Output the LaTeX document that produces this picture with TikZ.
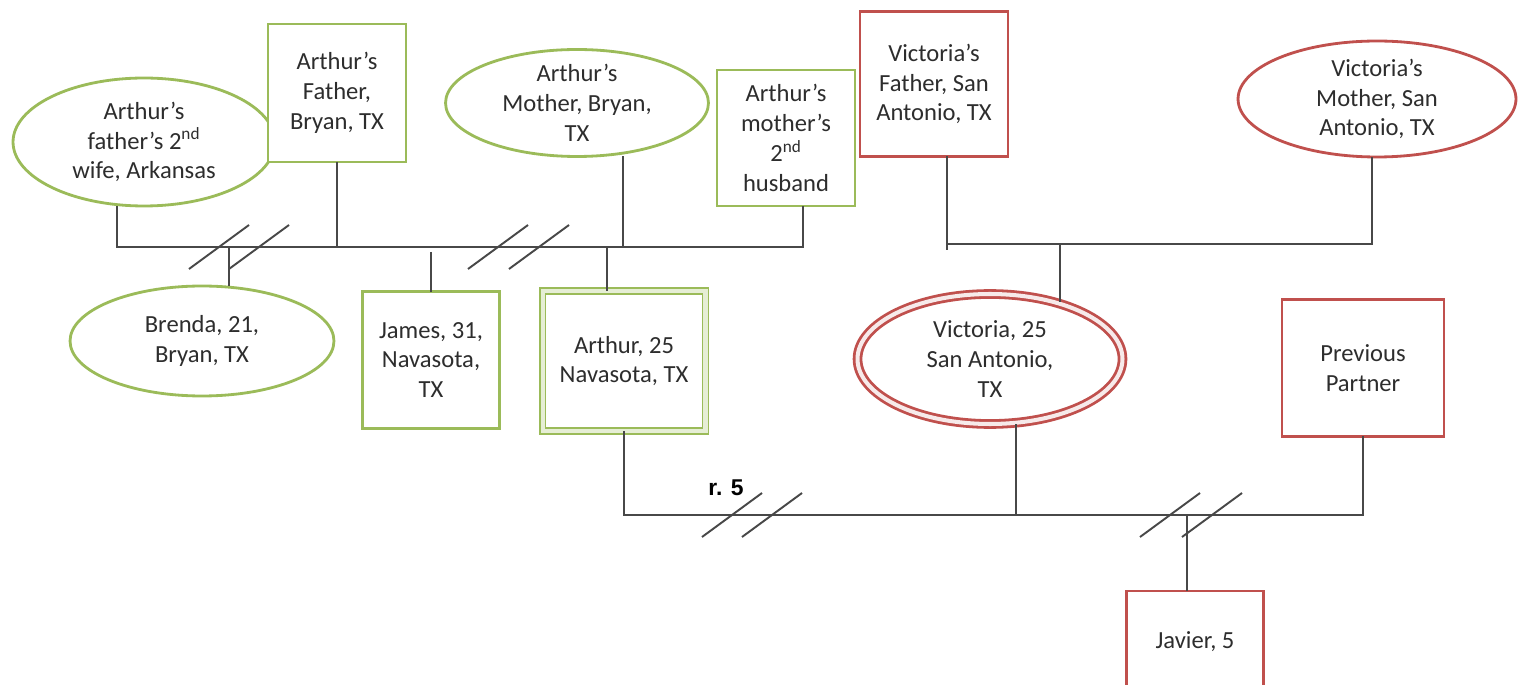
\documentclass[tikz,border=0pt]{standalone}
\usepackage{fontspec}
\setmainfont{Carlito}
\newfontfamily\tagfont{Liberation Sans}
\usetikzlibrary{shapes.geometric}

\definecolor{kinGreen}{RGB}{155,187,89}
\definecolor{kinRed}{RGB}{192,80,77}
\definecolor{kinLine}{RGB}{72,72,72}
\definecolor{kinText}{RGB}{45,45,45}

\tikzstyle{person} = [
    align=center,
    font=\fontsize{14}{17}\selectfont,
    text=kinText,
    fill=white,
    inner sep=0pt,
    outer sep=0pt,
    line width=1.6pt
]
\tikzstyle{male} = [person, rectangle]
\tikzstyle{female} = [person, ellipse, inner sep=-2pt]
\tikzstyle{arthurside} = [draw=kinGreen]
\tikzstyle{victoriaside} = [draw=kinRed]
\tikzstyle{index} = [double, double distance=2.3pt]
\tikzstyle{link} = [draw=kinLine, line width=1.1pt]
\tikzstyle{slash} = [draw=kinLine, line width=1.1pt]

\begin{document}
\begin{tikzpicture}[x=0.02cm, y=-0.02cm]

\clip (0,0) rectangle (1520,685);

% Arthur's parents and their second partners
\node (wife2) [female, arthurside, minimum width=5.24cm, minimum height=2.56cm]
at (144,142) {Arthur’s\\father’s 2\textsuperscript{nd}\\wife, Arkansas};

\node (afather) [male, arthurside, minimum width=2.76cm, minimum height=2.76cm]
at (337,93) {Arthur’s\\Father,\\Bryan, TX};

\node (amother) [female, arthurside, minimum width=5.26cm, minimum height=2.14cm]
at (577,103) {Arthur’s\\Mother, Bryan,\\TX};

\node (ahusband) [male, arthurside, minimum width=2.76cm, minimum height=2.72cm]
at (786,138) {Arthur’s\\mother’s\\2\textsuperscript{nd}\\husband};

% Victoria's parents
\node (vfather) [male, victoriaside, minimum width=2.96cm, minimum height=2.9cm]
at (934,84) {Victoria’s\\Father, San\\Antonio, TX};

\node (vmother) [female, victoriaside, minimum width=5.56cm, minimum height=2.32cm]
at (1377,99) {Victoria’s\\Mother, San\\Antonio, TX};

% children
\node (brenda) [female, arthurside, minimum width=5.28cm, minimum height=2.2cm]
at (202,341) {Brenda, 21,\\Bryan, TX};

\node (james) [male, arthurside, minimum width=2.74cm, minimum height=2.74cm]
at (431,360) {James, 31,\\Navasota,\\TX};

\node (arthur) [male, arthurside, index, double=kinGreen!25, line width=1.1pt,
    minimum width=3.26cm, minimum height=2.8cm]
at (624,361) {Arthur, 25\\Navasota, TX};

\node (victoria) [female, victoriaside, index, double=kinRed!12,
    minimum width=5.3cm, minimum height=2.6cm]
at (990,359) {Victoria, 25\\San Antonio,\\TX};

\node (partner) [male, victoriaside, minimum width=3.24cm, minimum height=2.74cm]
at (1363,368) {Previous\\Partner};

\node (javier) [male, victoriaside, minimum width=2.74cm, minimum height=2.04cm]
at (1195,642) {Javier, 5};

\node (years) [font=\tagfont\bfseries\fontsize{13}{15}\selectfont, text=black]
at (726,488) {r. 5};

% bar joining Arthur's parents and their partners
\coordinate (abarL) at (117,247);
\coordinate (abarR) at (803,247);
\coordinate (brendaDrop) at (229,247);
\coordinate (jamesDrop) at (431,247);
\coordinate (arthurDrop) at (607,247);
\coordinate (motherDrop) at (623,247);

\draw [link] (abarL |- wife2.south) -- (abarL) -- (abarR) -- (abarR |- ahusband.south);
\draw [link] (afather.south) -- (afather.south |- abarL);
\draw [link] (motherDrop |- amother.south) -- (motherDrop);
\draw [link] (brendaDrop) -- (brendaDrop |- brenda.north);
\draw [link, shorten <=0.1cm] (jamesDrop) -- (james.north);
\draw [link] (arthurDrop) -- (arthurDrop |- arthur.north);

% bar joining Victoria's parents
\coordinate (vbarL) at (947,244);
\coordinate (vbarR) at (1372,244);
\coordinate (victoriaDrop) at (1060,244);

\draw [link] (vbarL |- vfather.south) -- ([yshift=-0.12cm]vbarL);
\draw [link] (vbarL) -- (vbarR) -- (vbarR |- vmother.south);
\draw [link] (victoriaDrop) -- (victoriaDrop |- victoria.41);

% bar joining Arthur, Victoria and her previous partner
\coordinate (cbar) at (0,515);
\coordinate (victoriaUp) at (1016,515);
\coordinate (javierDrop) at (1187,515);

\draw [link] (arthur.south) -- (arthur.south |- cbar) -- (partner.south |- cbar) -- (partner.south);
\draw [link] (victoriaUp) -- (victoriaUp |- victoria.south);
\draw [link] (javierDrop) -- (javierDrop |- javier.north);

% separation marks
\foreach \x/\y in {219/247, 259/247, 498/247, 539/247, 732/515, 772/515, 1170/515, 1212/515}
    \draw [slash] (\x-30,\y+22) -- (\x+30,\y-22);

\end{tikzpicture}
\end{document}
